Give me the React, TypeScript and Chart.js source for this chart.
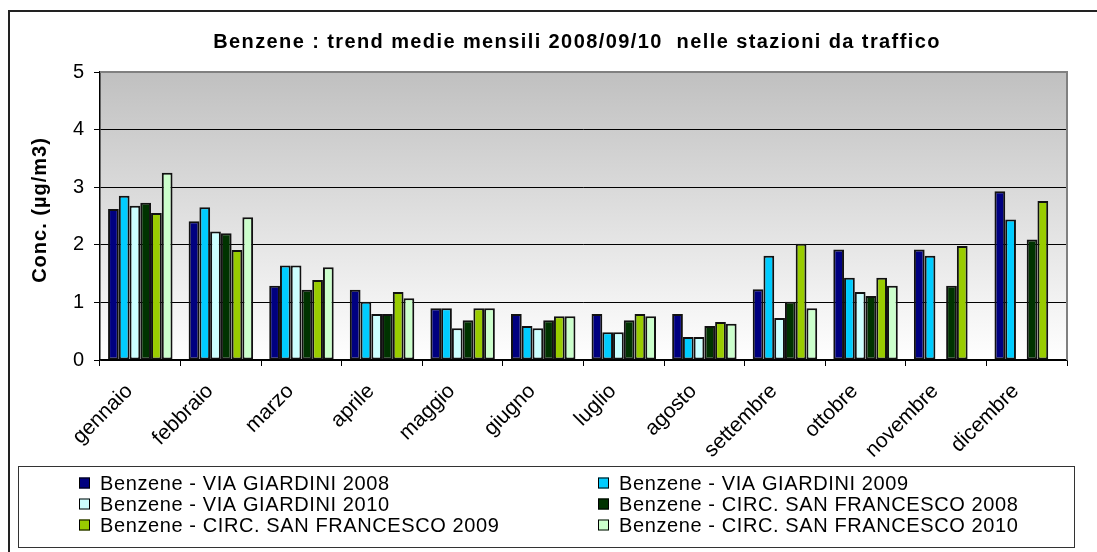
import React, { useEffect, useRef } from 'react';
import { Chart, registerables } from 'chart.js';

Chart.register(...registerables);

const chartTitle = 'Benzene : trend medie mensili 2008/09/10  nelle stazioni da traffico';
const yAxisTitle = 'Conc. (µg/m3)';
const months = ['gennaio', 'febbraio', 'marzo', 'aprile', 'maggio', 'giugno', 'luglio', 'agosto', 'settembre', 'ottobre', 'novembre', 'dicembre'];
const yTicks = [0, 1, 2, 3, 4, 5];

const seriesLabels = [
  'Benzene - VIA GIARDINI 2008',
  'Benzene - VIA GIARDINI 2009',
  'Benzene - VIA GIARDINI 2010',
  'Benzene - CIRC. SAN FRANCESCO 2008',
  'Benzene - CIRC. SAN FRANCESCO 2009',
  'Benzene - CIRC. SAN FRANCESCO 2010',
];
const seriesColors = ['#000080', '#00CCFF', '#CCFFFF', '#003300', '#99CC00', '#CCFFCC'];

const viaGiardini2008 = [2.62, 2.41, 1.29, 1.22, 0.9, 0.8, 0.8, 0.8, 1.23, 1.92, 1.92, 2.93];
const viaGiardini2009 = [2.85, 2.65, 1.64, 1.01, 0.9, 0.59, 0.48, 0.4, 1.81, 1.43, 1.81, 2.44];
const viaGiardini2010 = [2.68, 2.23, 1.64, 0.8, 0.55, 0.55, 0.48, 0.4, 0.73, 1.18, null, null];
const sanFrancesco2008 = [2.73, 2.2, 1.22, 0.8, 0.69, 0.69, 0.69, 0.59, 1.01, 1.11, 1.29, 2.09];
const sanFrancesco2009 = [2.55, 1.91, 1.39, 1.18, 0.9, 0.76, 0.8, 0.66, 2.02, 1.43, 1.98, 2.76];
const sanFrancesco2010 = [3.25, 2.48, 1.61, 1.07, 0.9, 0.76, 0.76, 0.63, 0.9, 1.29, null, null];

const seriesValues = [viaGiardini2008, viaGiardini2009, viaGiardini2010, sanFrancesco2008, sanFrancesco2009, sanFrancesco2010];

const FONT = 'Arial, "Liberation Sans", sans-serif';

const decorPlugin = {
  id: 'decor',
  beforeDraw(chart: any) {
    const { ctx, chartArea } = chart;
    const { left, top, right, bottom } = chartArea;
    ctx.save();
    ctx.fillStyle = '#ffffff';
    ctx.fillRect(0, 0, chart.width, chart.height);
    ctx.strokeStyle = '#222';
    ctx.lineWidth = 2;
    ctx.strokeRect(9, 11, chart.width + 20, chart.height + 20);
    const g = ctx.createLinearGradient(0, top, 0, bottom);
    g.addColorStop(0, '#c0c0c0');
    g.addColorStop(1, '#ffffff');
    ctx.fillStyle = g;
    ctx.fillRect(left, top, right - left, bottom - top);
    ctx.restore();
  },
  afterDatasetsDraw(chart: any) {
    const { ctx, chartArea } = chart;
    const { left, top, right, bottom } = chartArea;
    ctx.save();
    ctx.strokeStyle = '#808080';
    ctx.lineWidth = 2;
    ctx.beginPath();
    ctx.moveTo(left, top);
    ctx.lineTo(right, top);
    ctx.lineTo(right, bottom);
    ctx.stroke();
    ctx.restore();
  },
  afterDraw(chart: any) {
    const { ctx } = chart;
    ctx.save();
    ctx.fillStyle = '#000';
    ctx.textBaseline = 'middle';
    ctx.textAlign = 'center';
    ctx.font = `bold 20px ${FONT}`;
    (ctx as any).letterSpacing = '1.4px';
    ctx.fillText(chartTitle, 577, 42);
    ctx.save();
    ctx.translate(40, 210);
    ctx.rotate(-Math.PI / 2);
    (ctx as any).letterSpacing = '1px';
    ctx.font = `bold 20px ${FONT}`;
    ctx.fillText(yAxisTitle, 0, 0);
    ctx.restore();
    ctx.strokeStyle = '#333';
    ctx.lineWidth = 1;
    ctx.strokeRect(18.5, 466.5, 1056, 81);
    ctx.font = `20px ${FONT}`;
    (ctx as any).letterSpacing = '0.6px';
    ctx.textAlign = 'left';
    const rowsY = [483, 504, 525];
    const colSquare = [79, 598];
    seriesLabels.forEach((lab, i) => {
      const col = i % 2;
      const row = Math.floor(i / 2);
      const y = rowsY[row];
      const sx = colSquare[col];
      ctx.fillStyle = seriesColors[i];
      ctx.fillRect(sx, y - 5.5, 11, 11);
      ctx.strokeStyle = '#000';
      ctx.strokeRect(sx + 0.5, y - 5, 10, 10);
      ctx.fillStyle = '#000';
      ctx.fillText(lab, sx + 21, y + 1);
    });
    ctx.restore();
  },
};

export default function App() {
  const canvasRef = useRef<HTMLCanvasElement | null>(null);

  useEffect(() => {
    if (!canvasRef.current) return;
    const chart = new Chart(canvasRef.current, {
      type: 'bar',
      data: {
        labels: months,
        datasets: seriesValues.map((vals, i) => ({
          label: seriesLabels[i],
          data: vals,
          backgroundColor: seriesColors[i],
          borderColor: '#111',
          borderWidth: 2,
          borderSkipped: false,
          categoryPercentage: 0.8,
          barPercentage: 1.0,
        })),
      },
      options: {
        responsive: false,
        animation: false,
        devicePixelRatio: 1,
        layout: { padding: { top: 72, left: 0, right: 30, bottom: 86 } },
        plugins: {
          legend: { display: false },
          title: { display: false },
          tooltip: { enabled: false },
        },
        scales: {
          x: {
            offset: true,
            grid: { offset: true, drawOnChartArea: false, drawTicks: true, tickLength: 6, color: '#000', lineWidth: 1 },
            border: { display: true, color: '#000', width: 1.5 },
            ticks: {
              autoSkip: false,
              minRotation: 45,
              maxRotation: 45,
              padding: 13,
              labelOffset: -11,
              color: '#000',
              font: { family: FONT, size: 21 },
            },
            afterFit(scale: any) {
              scale.height = 106;
            },
          },
          y: {
            min: 0,
            max: 5,
            afterBuildTicks(scale: any) {
              scale.ticks = yTicks.map((v) => ({ value: v }));
            },
            grid: {
              color: (c: any) => (c.tick && c.tick.value === 5 ? 'rgba(0,0,0,0)' : '#000'),
              lineWidth: 1,
              tickLength: 6,
              tickColor: '#000',
            },
            border: { display: true, color: '#000', width: 1.5 },
            ticks: {
              padding: 10,
              color: '#000',
              font: { family: FONT, size: 20 },
            },
            afterFit(scale: any) {
              scale.width = 100;
            },
          },
        },
      },
      plugins: [decorPlugin],
    });
    return () => chart.destroy();
  }, []);

  return (
    <div style={{ position: 'fixed', left: 0, top: 0, width: 1097, height: 552, background: '#fff' }}>
      <canvas ref={canvasRef} width={1097} height={552} style={{ width: 1097, height: 552, display: 'block' }} />
    </div>
  );
}
